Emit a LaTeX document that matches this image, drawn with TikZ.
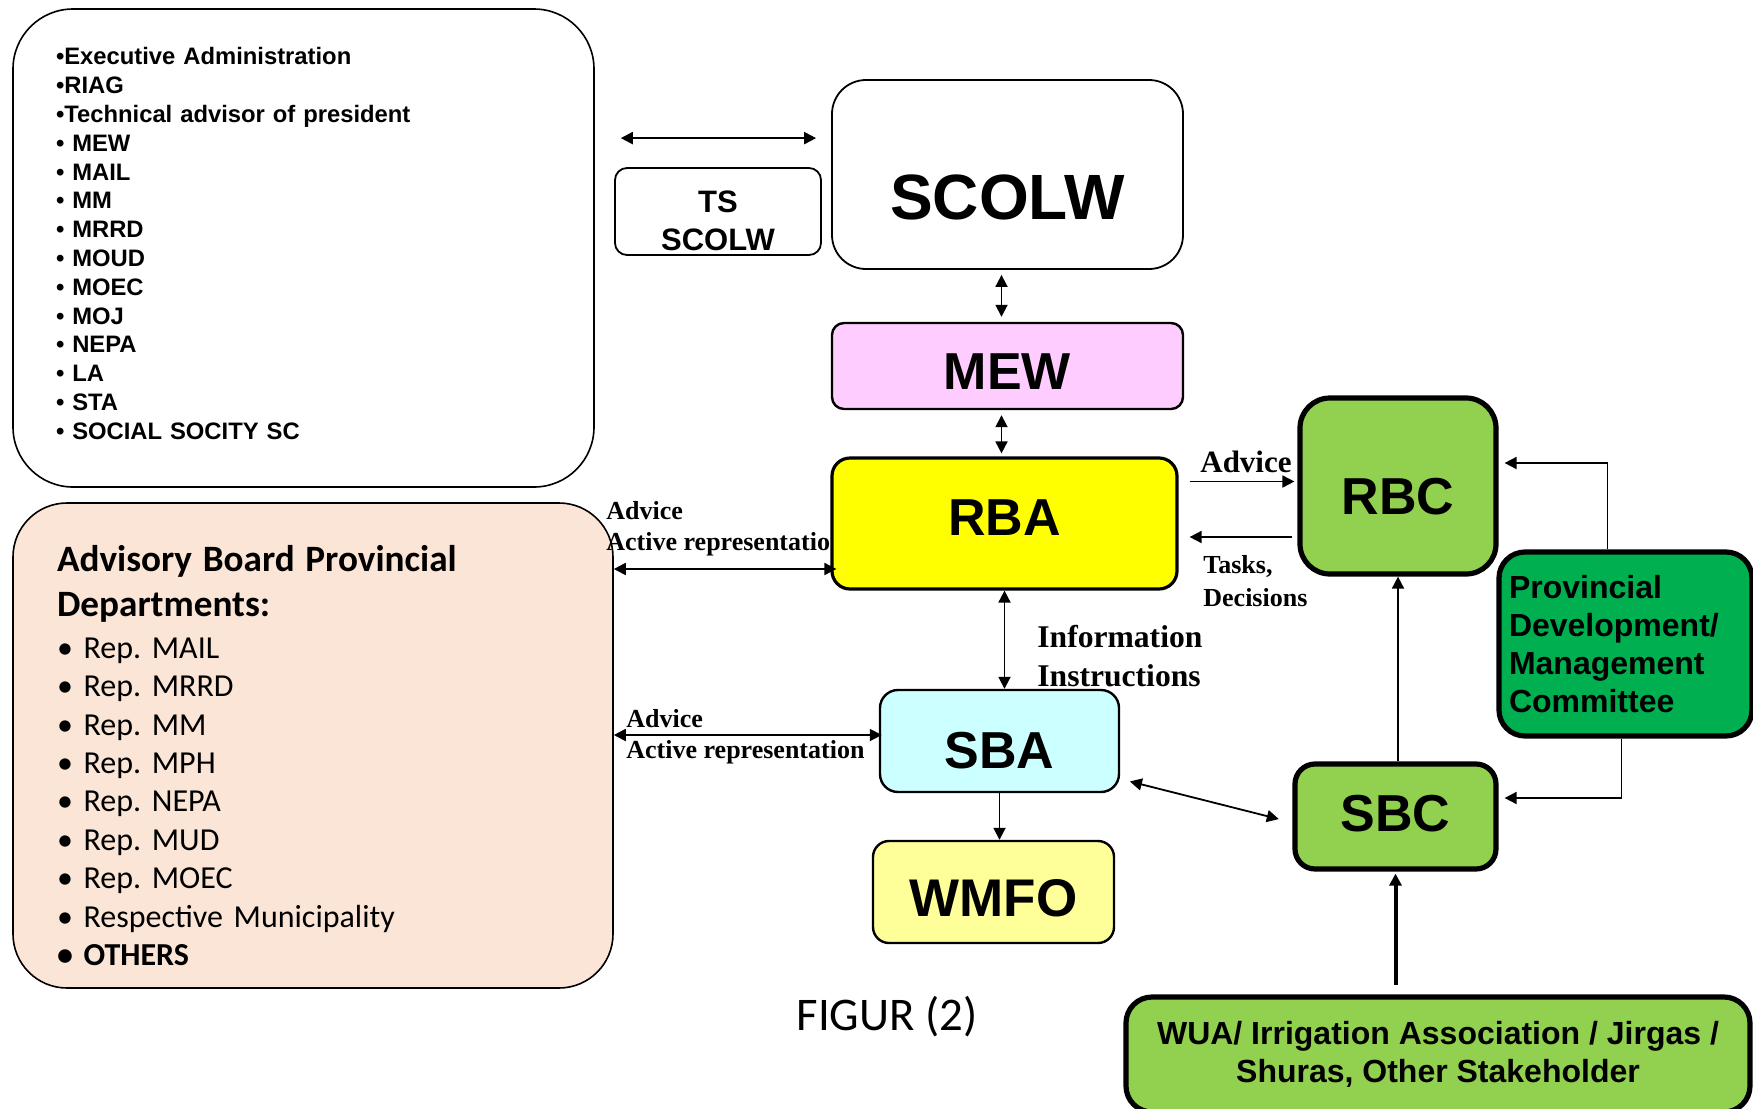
\documentclass[tikz,border=0pt]{standalone}
\usepackage{fontspec}
\setmainfont{Liberation Serif}
\setsansfont{Liberation Sans}
\newfontfamily\calibri{Carlito}
\usetikzlibrary{arrows.meta, positioning, calc}
\frenchspacing

\definecolor{mewpink}{HTML}{FFCCFF}
\definecolor{rbayellow}{HTML}{FFFF00}
\definecolor{basingreen}{HTML}{92D050}
\definecolor{provgreen}{HTML}{00B050}
\definecolor{sbacyan}{HTML}{CCFFFF}
\definecolor{wmfoyellow}{HTML}{FFFF99}
\definecolor{advpeach}{HTML}{FBE5D6}

\begin{document}
\begin{tikzpicture}[x=0.5pt, y=-0.5pt,
    box/.style={draw, align=center, inner sep=0pt},
    lbl/.style={font=\bfseries, align=left, inner sep=0pt},
    twoway/.style={{Triangle[length=6pt,width=6pt]}-{Triangle[length=6pt,width=6pt]}, line width=0.9pt},
    oneway/.style={-{Triangle[length=6pt,width=6pt]}, line width=0.9pt}]
    \useasboundingbox (0,0) rectangle (1753,1109);

    % Council members
    \node[box, line width=0.8pt, rounded corners=30pt, minimum width=290.5pt, minimum height=239pt,
          text width=247.5pt, align=left, inner xsep=21.5pt,
          font=\sffamily\bfseries\fontsize{11.9}{14.4}\selectfont] (members) at (303.5,248)
        {•Executive Administration\\ •RIAG\\ •Technical advisor of president\\
         • MEW\\ • MAIL\\ • MM\\ • MRRD\\ • MOUD\\ • MOEC\\ • MOJ\\ • NEPA\\ • LA\\ • STA\\
         • SOCIAL SOCITY SC\rule[-4.5pt]{0pt}{0pt}};

    % Advisory board
    \node[box, line width=0.8pt, rounded corners=27pt, fill=advpeach, minimum width=300pt, minimum height=242.5pt,
          text width=256pt, align=left, inner xsep=22pt,
          font=\calibri\fontsize{16}{19.2}\selectfont] (adv) at (313,745.5)
        {\rule{0pt}{23pt}{\fontsize{18.6}{19.2}\selectfont\bfseries Advisory Board Provincial}\\[3.3pt]
         {\fontsize{18.6}{19.2}\selectfont\bfseries Departments:}\\[1.8pt]
         • Rep. MAIL\\ • Rep. MRRD\\ • Rep. MM\\ • Rep. MPH\\ • Rep. NEPA\\ • Rep. MUD\\
         • Rep. MOEC\\ • Respective Municipality\\ \textbf{• OTHERS}};

    % Labels under the boxes
    \node[lbl, font=\bfseries\fontsize{13}{15.5}\selectfont, anchor=west] (advrba) at (606,529) {Advice\\Active representation};
    \node[lbl, font=\bfseries\fontsize{13}{15.5}\selectfont, anchor=west] (advsba) at (626,737) {Advice\\Active representation};

    % Main chain
    \node[box, line width=0.9pt, rounded corners=6pt, minimum width=103pt, minimum height=43.5pt,
          font=\sffamily\bfseries\fontsize{15.5}{19}\selectfont] (tsscolw) at (718,211.5) {\rule{0pt}{20pt}TS\\SCOLW};
    \node[box, line width=0.9pt, rounded corners=17pt, minimum width=175.5pt, minimum height=94.5pt,
          text height=45pt, text depth=0pt, font=\sffamily\bfseries\fontsize{32}{38}\selectfont] (scolw) at (1007.5,174.5) {SCOLW};
    \node[box, line width=1.2pt, rounded corners=6pt, fill=mewpink, minimum width=175.5pt, minimum height=43pt,
          text height=23pt, text depth=0pt, font=\sffamily\bfseries\fontsize{26}{30}\selectfont] (mew) at (1007.5,366) {MEW};
    \node[box, line width=1.6pt, rounded corners=9pt, fill=rbayellow, minimum width=172.5pt, minimum height=65.5pt,
          text height=18.6pt, text depth=7pt, font=\sffamily\bfseries\fontsize{26}{30}\selectfont] (rba) at (1004.5,523.5) {RBA};
    \node[box, line width=1.2pt, rounded corners=9pt, fill=sbacyan, minimum width=119.5pt, minimum height=51pt,
          text height=27.6pt, text depth=0pt, font=\sffamily\bfseries\fontsize{26}{30}\selectfont] (sba) at (999.5,741) {SBA};
    \node[box, line width=1.2pt, rounded corners=8pt, fill=wmfoyellow, minimum width=120.5pt, minimum height=51pt,
          text height=24.6pt, text depth=0pt, font=\sffamily\bfseries\fontsize{26.5}{30}\selectfont] (wmfo) at (993.5,892) {WMFO};

    % Basin councils
    \node[box, line width=2.6pt, rounded corners=15pt, fill=basingreen, minimum width=98pt, minimum height=88pt,
          text height=28.6pt, text depth=0pt, font=\sffamily\bfseries\fontsize{26}{30}\selectfont] (rbc) at (1398,486) {RBC};
    \node[box, line width=2.6pt, rounded corners=10pt, fill=basingreen, minimum width=100.5pt, minimum height=52.5pt,
          text height=18.6pt, text depth=3.4pt, font=\sffamily\bfseries\fontsize{26}{30}\selectfont] (sbc) at (1395.5,816.5) {SBC};
    \node[box, line width=2.6pt, rounded corners=13pt, fill=provgreen, minimum width=126.5pt, minimum height=92pt,
          text width=116.5pt, align=left, inner xsep=5pt,
          font=\sffamily\bfseries\fontsize{16}{19}\selectfont] (prov) at (1625.5,644)
        {Provincial\\ Development/\\ Management\\ Committee};
    \node[box, line width=2.6pt, rounded corners=13pt, fill=basingreen, minimum width=312pt, minimum height=57.5pt,
          font=\sffamily\bfseries\fontsize{16}{19}\selectfont] (wua) at (1438,1054.5)
        {WUA/ Irrigation Association / Jirgas /\\ Shuras, Other Stakeholder};

    \node[font=\calibri\fontsize{23.4}{28}\selectfont] (fig) at (887,1017) {FIGUR (2)};

    % Connectors
    \coordinate (tsarrow) at ([yshift=-29.5pt]scolw.north west);
    \draw[twoway, line width=1.1pt, shorten <=13pt, shorten >=7.5pt] (members.east |- tsarrow) -- (tsarrow);
    \draw[twoway, shorten <=2.5pt, shorten >=2.5pt] ([xshift=-3pt]scolw.south) -- ([xshift=-3pt]mew.north);
    \draw[twoway, shorten <=2.5pt, shorten >=1.5pt] ([xshift=-3pt]mew.south) -- ([xshift=-3pt]mew.south |- rba.north);
    \draw[twoway] (rba.south) -- (rba.south |- sba.north);
    \draw[oneway] (sba.south) -- (sba.south |- wmfo.north);

    \coordinate (advpt) at ([yshift=21pt]rba.east);
    \draw[oneway, shorten <=5.5pt, shorten >=1.5pt] (advpt) -- (advpt -| rbc.west)
        node[lbl, midway, above=4pt, xshift=4pt, font=\bfseries\fontsize{15.5}{18}\selectfont] (advlbl) {Advice};
    \coordinate (taskpt) at ([yshift=-25.5pt]rbc.west);
    \draw[oneway, shorten <=2.5pt, shorten >=5.5pt] (taskpt) -- (taskpt -| rba.east);
    \node[lbl, font=\bfseries\fontsize{13}{16.5}\selectfont, anchor=west] (tasks) at (1203,581) {Tasks,\\Decisions};
    \node[lbl, font=\bfseries\fontsize{15.8}{19.5}\selectfont, anchor=west] (info) at (1037,656) {Information\\Instructions};

    \coordinate (reprba) at ([yshift=-22.75pt]rba.west);
    \draw[twoway, shorten >=-3pt] (reprba -| adv.east) -- (reprba);
    \coordinate (repsba) at ([yshift=3pt]sba.west);
    \draw[twoway, shorten >=-1.5pt] (repsba -| adv.east) -- (repsba);

    \draw[twoway, shorten <=5pt, shorten >=7pt] ([yshift=-19pt]sba.east) -- ([yshift=-3pt]sbc.west);
    \draw[oneway] (rbc.south |- sbc.north) -- (rbc.south);
    \draw[oneway, line width=2pt, shorten <=4.5pt, shorten >=1pt] (sbc.south |- wua.north) -- (sbc.south);
    \draw[oneway, shorten >=3pt] ([xshift=-9pt]prov.north) |- ([yshift=11.5pt]rbc.east);
    \draw[oneway, shorten >=3pt] ([xshift=-2pt]prov.south) |- ([yshift=9.25pt]sbc.east);
\end{tikzpicture}
\end{document}
